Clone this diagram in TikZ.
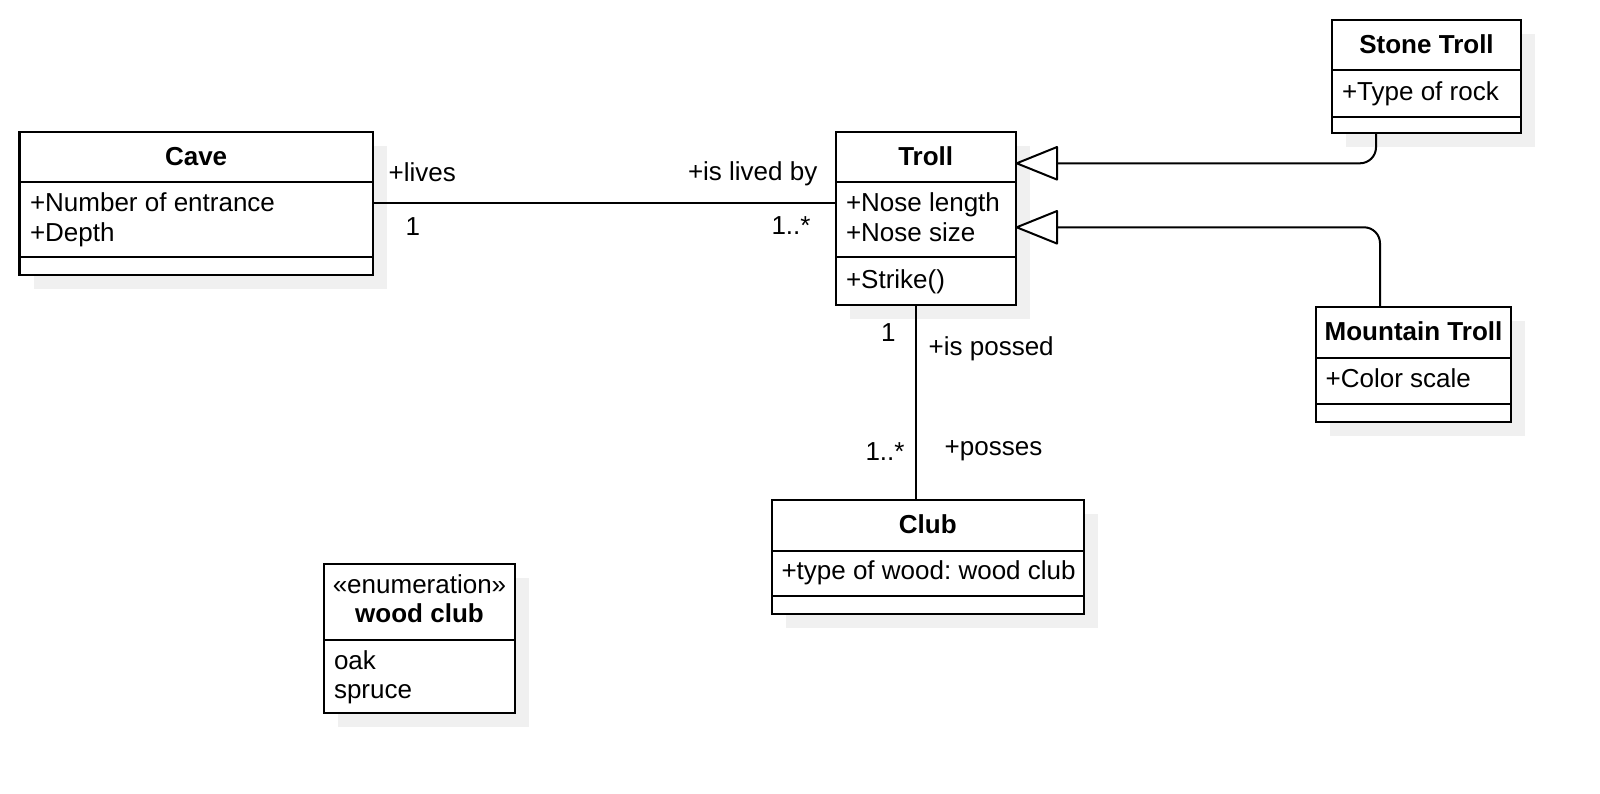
\documentclass[tikz,border=0pt]{standalone}
\usepackage{fontspec}
\setmainfont{Liberation Sans}
\usetikzlibrary{arrows.meta,shadows}
\definecolor{shadowgray}{RGB}{240,240,240}
\frenchspacing
\begin{document}
\begin{tikzpicture}[x=1pt,y=-1pt,
  classbox/.style={draw, line width=2.2pt, fill=white, inner sep=0pt, outer sep=0pt,
    anchor=north west,
    drop shadow={shadow xshift=14pt, shadow yshift=-14pt, fill=shadowgray, opacity=1}},
  divline/.style={line width=2.2pt},
  txt/.style={inner sep=0pt, outer sep=0pt, anchor=base west, font=\fontsize{26}{29}\selectfont},
  ttl/.style={inner sep=0pt, outer sep=0pt, anchor=base, font=\fontsize{26}{29}\selectfont\bfseries},
  ctr/.style={inner sep=0pt, outer sep=0pt, anchor=base, font=\fontsize{26}{29}\selectfont},
  assoc/.style={line width=2pt},
  gen/.style={line width=2pt, rounded corners=16pt,
    arrows={Triangle[length=44pt,width=35pt,fill=white,round=false]-}},
]
\useasboundingbox (0,0) rectangle (1600,794);

% Cave
\node[classbox, minimum width=353.2pt, minimum height=143.6pt] (cave) at (19.5,131.7) {};
\draw[divline] (19.5,181.7) -- (372.7,181.7);
\draw[divline] (19.5,257.3) -- (372.7,257.3);
\node[ttl] (caveT) at (196.1,165.5) {Cave};
\node[txt] (caveA1) at (30,211.7) {+Number of entrance};
\node[txt] (caveA2) at (30,241.5) {+Depth};

% Troll
\node[classbox, minimum width=180pt, minimum height=172.7pt] (troll) at (835.7,132.3) {};
\draw[divline] (835.7,181.7) -- (1015.7,181.7);
\draw[divline] (835.7,257.3) -- (1015.7,257.3);
\node[ttl] (trollT) at (925.7,165.5) {Troll};
\node[txt] (trollA1) at (846,211.7) {+Nose length};
\node[txt] (trollA2) at (846,241.5) {+Nose size};
\node[txt] (trollM1) at (846,288.3) {+Strike()};

% Stone Troll
\node[classbox, minimum width=189pt, minimum height=113.3pt] (stone) at (1332,20) {};
\draw[divline] (1332,70) -- (1521,70);
\draw[divline] (1332,116.7) -- (1521,116.7);
\node[ttl] (stoneT) at (1426.5,54) {Stone Troll};
\node[txt] (stoneA1) at (1342,100.3) {+Type of rock};

% Mountain Troll
\node[classbox, minimum width=195.6pt, minimum height=114.4pt] (mountain) at (1315.7,307.3) {};
\draw[divline] (1315.7,358.3) -- (1511.3,358.3);
\draw[divline] (1315.7,404) -- (1511.3,404);
\node[ttl] (mountainT) at (1413.5,340.7) {Mountain Troll};
\node[txt] (mountainA1) at (1325.7,387.7) {+Color scale};

% Club
\node[classbox, minimum width=312.3pt, minimum height=114pt] (club) at (771.7,500) {};
\draw[divline] (771.7,550.7) -- (1084,550.7);
\draw[divline] (771.7,596) -- (1084,596);
\node[ttl] (clubT) at (927.8,533.3) {Club};
\node[txt] (clubA1) at (781.5,579.3) {+type of wood: wood club};

% Enumeration wood club
\node[classbox, minimum width=191pt, minimum height=149pt] (enum) at (324,564.3) {};
\draw[divline] (324,639.7) -- (515,639.7);
\node[ctr] (enumS) at (419.5,593.2) {«enumeration»};
\node[ttl] (enumT) at (419.5,622.2) {wood club};
\node[txt] (enumA1) at (334,669.3) {oak};
\node[txt] (enumA2) at (334,698.3) {spruce};

% Connectors
\draw[assoc] (cave.east) -- (cave.east -| troll.west);
\draw[assoc] ([xshift=-9.7pt]troll.south) -- ([xshift=-9.7pt]troll.south |- club.north);
\draw[gen] ([yshift=55.35pt]troll.east) -| ([xshift=-50.5pt]stone.south);
\draw[gen] ([yshift=-8.65pt]troll.east) -| ([xshift=-33.5pt]mountain.north);

% Association labels
\node[txt] (lLives) at (388.7,182) {+lives};
\node[txt] (lOne1) at (405.5,235.3) {1};
\node[txt] (lLivedBy) at (688,180.3) {+is lived by};
\node[txt] (lMany1) at (771.5,234.7) {1..*};
\node[txt] (lOne2) at (881,341.7) {1};
\node[txt] (lPossed) at (928.7,355.5) {+is possed};
\node[txt] (lMany2) at (865.5,460) {1..*};
\node[txt] (lPosses) at (944.7,455.5) {+posses};
\end{tikzpicture}
\end{document}
